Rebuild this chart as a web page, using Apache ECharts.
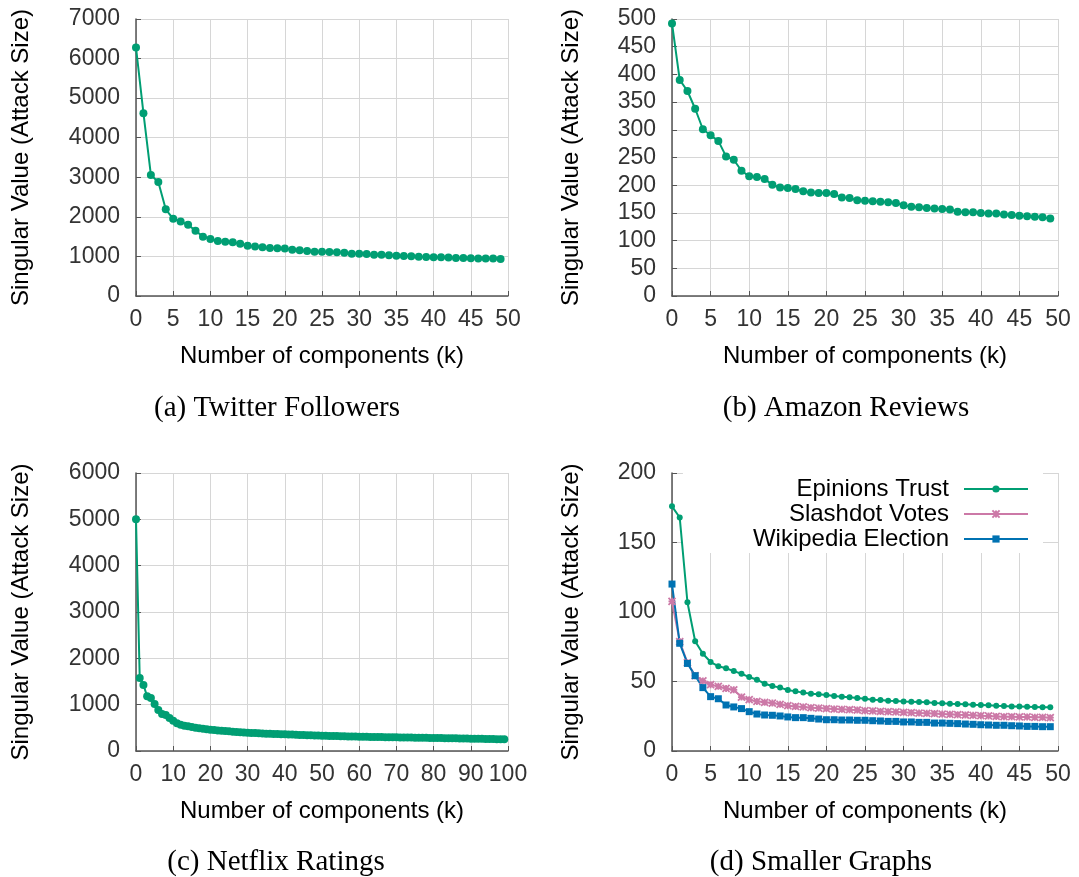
<!DOCTYPE html>
<html><head><meta charset="utf-8">
<script src="https://cdn.jsdelivr.net/npm/echarts@6/dist/echarts.min.js"></script>
<style>html,body{margin:0;padding:0;background:#fff}#c{width:1079px;height:877px}</style>
</head><body><div id="c"></div><script>
// ---- data ----
const twitterFollowers = [6280,4620,3060,2880,2190,1950,1880,1800,1650,1500,
  1440,1390,1370,1360,1320,1270,1250,1230,1215,1205,
  1200,1170,1155,1140,1120,1120,1110,1105,1090,1070,
  1070,1060,1045,1040,1030,1020,1010,1005,995,985,
  980,978,970,960,960,953,950,950,945,935];
const amazonReviews = [492,390,370,338,301,290,280,252,246,226,
  216,215,211,201,196,195,193,189,187,186,
  186,184,178,177,173,172,171,170,169,168,
  164,161,160,159,158,157,156,152,151,151,
  150,149,149,147,146,145,144,143,142,140];
const netflixRatings = [5000,1575,1425,1180,1144,1014,885,800,777,712,
  655,597,568,547,532,518,504,489,482,468,
  460,452,444,437,430,424,418,412,406,401,
  396,391,387,382,378,374,371,368,365,362,
  360,357,354,351,348,345,342,339,336,333,
  331,328,326,324,322,320,317,315,313,311,
  309,307,306,304,303,301,300,298,297,296,
  295,293,292,291,289,288,287,285,284,282,
  281,280,278,277,276,274,273,271,270,268,
  266,265,264,262,261,259,258,256,254,252];
const epinionsTrust = [176,168,107,79,70,64,61,59.5,57.5,55.6,
  53.2,51.3,48.4,46.8,45.6,43.9,42.9,42,41.2,40.8,
  40.3,39.6,39.1,38.6,38.1,37.6,36.9,36.7,36.2,36.0,
  35.7,35.5,35.3,35.0,34.5,34.3,34.0,33.8,33.6,33.3,
  33.1,32.9,32.6,32.4,32.1,32.1,31.9,31.7,31.4,31.4];
const slashdotVotes = [107.7,78.7,63.5,54.2,50.4,47.7,46.5,45,44,38.8,
  36.9,35.7,35,34.5,33.6,32.6,32.1,31.7,31.2,30.9,
  30.5,30.2,30.0,29.7,29.5,29.0,28.8,28.5,28.3,28.1,
  27.8,27.6,27.3,27.1,26.9,26.6,26.4,26.1,25.9,25.7,
  25.4,25.2,24.9,24.7,24.7,24.5,24.5,24.2,24.2,24.0];
const wikipediaElection = [120.1,77.5,63,54.2,45.6,39.1,37.6,33.1,31.7,30.5,
  28.3,26.6,25.9,25.7,25.2,24.5,24.0,24.0,23.5,23.0,
  22.5,22.5,22.3,22.3,22.1,22.1,21.8,21.6,21.3,21.3,
  20.9,20.9,20.6,20.6,20.1,20.1,19.9,19.7,19.4,19.2,
  18.9,18.7,18.5,18.5,18.2,18.0,17.7,17.7,17.5,17.5];
const legendNames = ['Epinions Trust','Slashdot Votes','Wikipedia Election'];
const captions = ['(a) Twitter Followers','(b) Amazon Reviews','(c) Netflix Ratings','(d) Smaller Graphs'];
const xTitle = 'Number of components (k)';
const yTitle = 'Singular Value (Attack Size)';

// ---- styling ----
const SANS = "'Liberation Sans', Arial, sans-serif";
const SERIF = "'Liberation Serif', 'DejaVu Serif', serif";
const GREEN = '#009e73', PINK = '#cc79a7', BLUE = '#0072b2';
const AXIS = '#555555', GRID = '#d6d6d6';

function pairs(arr) { return arr.map((v, i) => [i, v]); }
const plain = v => String(v);

function xAxis(gi, max, interval) {
  return {
    type: 'value', gridIndex: gi, min: 0, max: max, interval: interval,
    name: xTitle, nameLocation: 'middle', nameGap: 48,
    nameTextStyle: {fontFamily: SANS, fontSize: 24, color: '#000'},
    axisLine: {show: true, onZero: false, lineStyle: {color: AXIS, width: 1.5}},
    axisTick: {show: true, inside: true, length: 5, lineStyle: {color: AXIS}},
    axisLabel: {fontFamily: SANS, fontSize: 23, color: '#333', margin: 12, formatter: plain},
    splitLine: {show: true, lineStyle: {color: GRID, width: 1}}
  };
}
function yAxis(gi, max, interval, gap) {
  return {
    type: 'value', gridIndex: gi, min: 0, max: max, interval: interval,
    name: yTitle, nameLocation: 'middle', nameGap: gap,
    nameTextStyle: {fontFamily: SANS, fontSize: 24, color: '#000'},
    axisLine: {show: true, lineStyle: {color: AXIS, width: 1.5}},
    axisTick: {show: true, inside: true, length: 5, lineStyle: {color: AXIS}},
    axisLabel: {fontFamily: SANS, fontSize: 23, color: '#333', margin: 16, formatter: plain},
    splitLine: {show: true, lineStyle: {color: GRID, width: 1}}
  };
}
function line(gi, name, data, color, symbol, size) {
  return {
    type: 'line', name: name, xAxisIndex: gi, yAxisIndex: gi, data: pairs(data),
    symbol: symbol, symbolSize: size, showSymbol: true, z: 10,
    lineStyle: {color: color, width: 2},
    itemStyle: {color: color, borderColor: color, borderWidth: symbol.startsWith('path') ? 1.8 : 0},
    animation: false
  };
}

const chart = echarts.init(document.getElementById('c'), null, {renderer: 'canvas'});
chart.setOption({
  backgroundColor: '#fff',
  animation: false,
  grid: [
    {left: 136, top: 19, width: 372, height: 277},
    {left: 672, top: 19, width: 386, height: 277},
    {left: 136, top: 473, width: 372, height: 278},
    {left: 672, top: 473, width: 386, height: 278}
  ],
  xAxis: [xAxis(0, 50, 5), xAxis(1, 50, 5), xAxis(2, 100, 10), xAxis(3, 50, 5)],
  yAxis: [yAxis(0, 7000, 1000, 103), yAxis(1, 500, 50, 89), yAxis(2, 6000, 1000, 103), yAxis(3, 200, 50, 89)],
  legend: {
    data: legendNames, orient: 'vertical', align: 'right',
    right: 36, top: 473, padding: [4, 14, 2, 70], itemGap: 1,
    itemWidth: 64, itemHeight: 9, backgroundColor: '#fff', selectedMode: false,
    textStyle: {fontFamily: SANS, fontSize: 24, color: '#000', padding: [0, 10, 0, 0]}
  },
  series: [
    line(0, 'tw', twitterFollowers, GREEN, 'circle', 8),
    line(1, 'am', amazonReviews, GREEN, 'circle', 8),
    line(2, 'nf', netflixRatings, GREEN, 'circle', 8),
    line(3, legendNames[0], epinionsTrust, GREEN, 'circle', 6),
    line(3, legendNames[1], slashdotVotes, PINK, 'path://M0,0L10,10M10,0L0,10M5,0L5,10M0,5L10,5', 7),
    line(3, legendNames[2], wikipediaElection, BLUE, 'rect', 7)
  ],
  graphic: [
    {type: 'text', x: 277, y: 408, style: {text: captions[0], fontFamily: SERIF, fontSize: 29, fill: '#000', align: 'center', verticalAlign: 'middle'}},
    {type: 'text', x: 846, y: 408, style: {text: captions[1], fontFamily: SERIF, fontSize: 29, fill: '#000', align: 'center', verticalAlign: 'middle'}},
    {type: 'text', x: 276, y: 862, style: {text: captions[2], fontFamily: SERIF, fontSize: 29, fill: '#000', align: 'center', verticalAlign: 'middle'}},
    {type: 'text', x: 821, y: 862, style: {text: captions[3], fontFamily: SERIF, fontSize: 29, fill: '#000', align: 'center', verticalAlign: 'middle'}}
  ]
});
</script></body></html>
